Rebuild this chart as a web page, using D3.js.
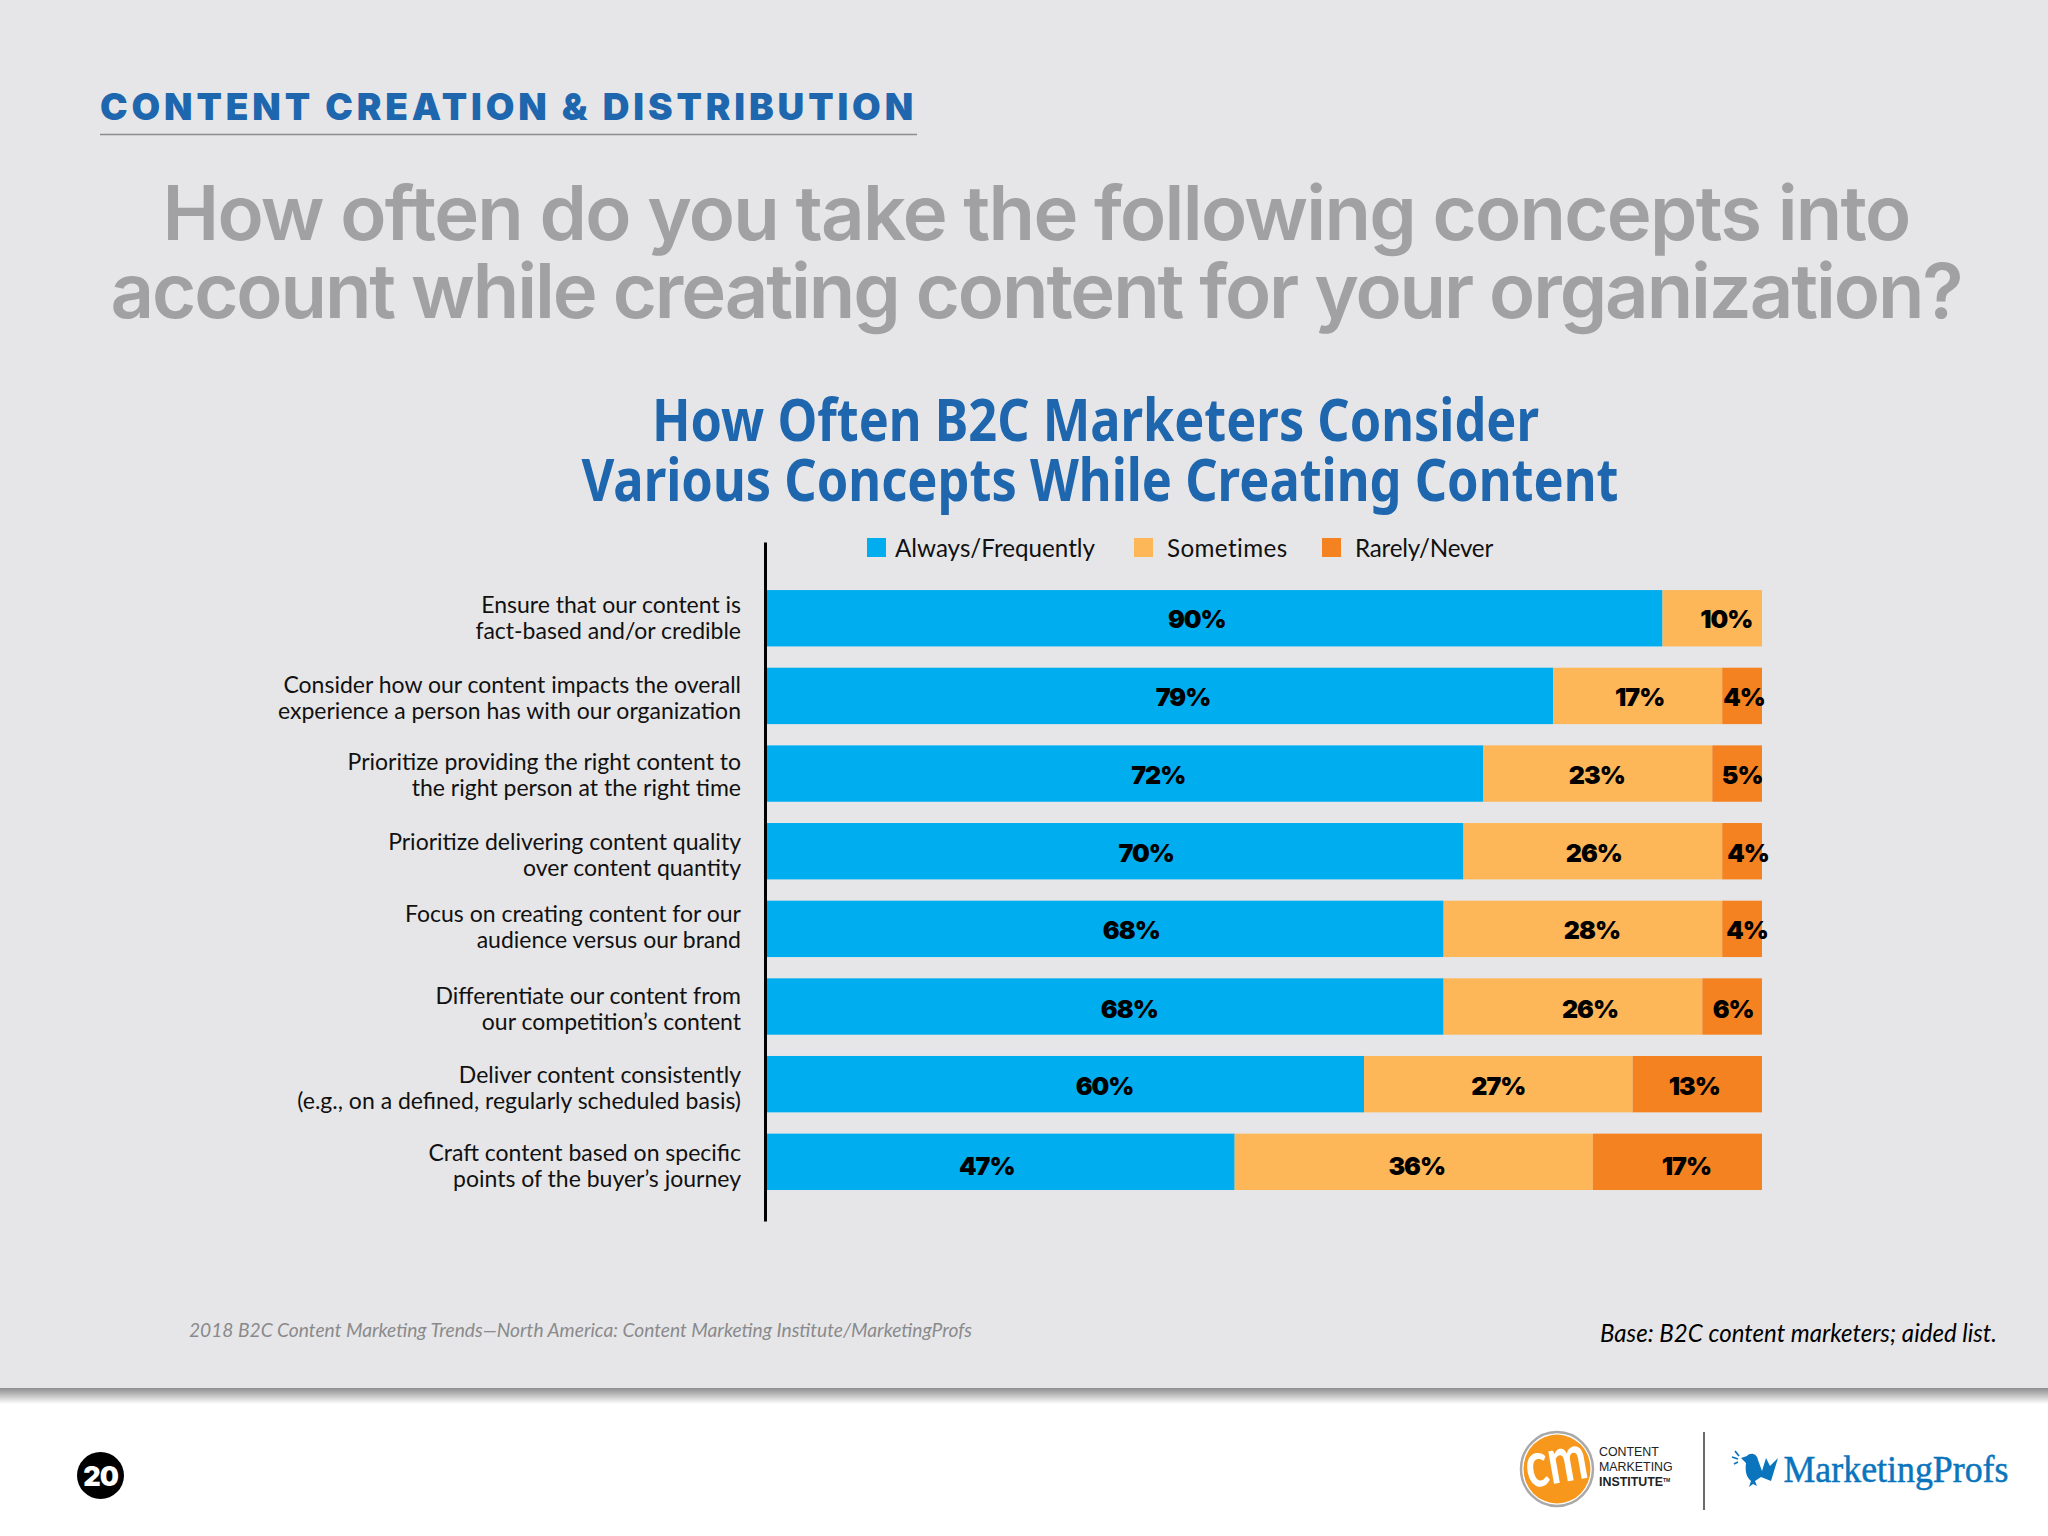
<!DOCTYPE html>
<html>
<head>
<meta charset="utf-8">
<script src="https://cdn.jsdelivr.net/npm/d3@7/dist/d3.min.js"></script>
<style>
  body { margin: 0; background: #fff; }
  svg { display: block; }
</style>
</head>
<body>
<svg id="vis-svg" width="2048" height="1536"></svg>
<script>
// chart values
var categories = [
  "Ensure that our content is|fact-based and/or credible",
  "Consider how our content impacts the overall|experience a person has with our organization",
  "Prioritize providing the right content to|the right person at the right time",
  "Prioritize delivering content quality|over content quantity",
  "Focus on creating content for our|audience versus our brand",
  "Differentiate our content from|our competition\u2019s content",
  "Deliver content consistently|(e.g., on a defined, regularly scheduled basis)",
  "Craft content based on specific|points of the buyer\u2019s journey"
];
var seriesNames = ["Always/Frequently", "Sometimes", "Rarely/Never"];
var always = [90, 79, 72, 70, 68, 68, 60, 47];
var sometimes = [10, 17, 23, 26, 28, 26, 27, 36];
var rarely = [0, 4, 5, 4, 4, 6, 13, 17];

var titleLines = ["How often do you take the following concepts into", "account while creating content for your organization?"];
var chartTitleLines = ["How Often B2C Marketers Consider", "Various Concepts While Creating Content"];
var sourceText = "2018 B2C Content Marketing Trends\u2014North America: Content Marketing Institute/MarketingProfs";
var baseText = "Base: B2C content marketers; aided list.";

var colors = ["#00aeef", "#fdb759", "#f58220"];
var blue = "#1e66ae";

// the labels sit off centre in the original, px per series and row
var labelNudge = [
  [-18, 23, 33, 31, 26, 24, 39, -14],
  [14, 2, -1, 1, 9, 17, 0, 3],
  [0, 2, 5, 6, 5, 1, -3, 9]
];
var labelDrop = [1, 1, 1, 2, 1, 2, 2, 4];
var categoryDrop = [2, 4, 3, 6, 0, 4, 6, 6];

var svg = d3.select("#vis-svg");
var defs = svg.append("defs");

// squeeze or open a text to the width it has in the original
function fitSpacing(sel, widths) {
  sel.each(function(d, i) {
    var natural = this.getComputedTextLength();
    var n = this.textContent.length;
    d3.select(this).style("letter-spacing", ((widths[i] - natural) / n) + "px");
  });
}

var shadow = defs.append("linearGradient")
  .attr("id", "shadow")
  .attr("x1", 0).attr("y1", 0).attr("x2", 0).attr("y2", 1);
shadow.append("stop").attr("offset", "0%").attr("stop-color", "#8d8d8f");
shadow.append("stop").attr("offset", "100%").attr("stop-color", "#ffffff");

// slide background
svg.append("rect").attr("width", 2048).attr("height", 1536).attr("fill", "#fff");
svg.append("rect").attr("width", 2048).attr("height", 1388).attr("fill", "#e6e6e8");
svg.append("rect").attr("y", 1388).attr("width", 2048).attr("height", 16).attr("fill", "url(#shadow)");

// header
svg.append("text")
  .datum("CONTENT CREATION & DISTRIBUTION")
  .text(function(d) { return d; })
  .attr("x", 100).attr("y", 120)
  .style("font", "900 37px Inter")
  .style("fill", blue)
  .call(fitSpacing, [817]);

svg.append("line")
  .attr("x1", 100).attr("x2", 917)
  .attr("y1", 134.5).attr("y2", 134.5)
  .attr("stroke", "#8c8c8e").attr("stroke-width", 1.5);

svg.selectAll(".q-title")
  .data(titleLines)
  .enter()
  .append("text")
  .attr("class", "q-title")
  .text(function(d) { return d; })
  .attr("x", 1036)
  .attr("y", function(d, i) { return 240 + i * 78; })
  .attr("text-anchor", "middle")
  .style("font", "600 76px Inter")
  .style("fill", "#a1a1a3")
  .call(fitSpacing, [1747, 1851]);

var chartTitleX = [1095.5, 1100];
var chartTitleWidths = [887, 1037];
svg.selectAll(".c-title")
  .data(chartTitleLines)
  .enter()
  .append("text")
  .attr("class", "c-title")
  .text(function(d) { return d; })
  .attr("x", function(d, i) { return chartTitleX[i]; })
  .attr("y", function(d, i) { return 441 + i * 59.5; })
  .attr("text-anchor", "middle")
  .attr("textLength", function(d, i) { return chartTitleWidths[i]; })
  .attr("lengthAdjust", "spacingAndGlyphs")
  .style("font", "700 60px 'Noto Sans'")
  .style("fill", blue);

// scales
var x = d3.scaleLinear().domain([0, 100]).range([767, 1762]);

var y = d3.scaleBand()
  .domain(categories)
  .range([542, 1221])
  .paddingInner(0.274)
  .paddingOuter(0.509)
  .align(0.608);

var rows = categories.map(function(c, i) {
  return { category: c, a: always[i], b: sometimes[i], c: rarely[i] };
});
var stacked = d3.stack().keys(["a", "b", "c"])(rows);

// bars
var layers = svg.selectAll(".layer")
  .data(stacked)
  .enter()
  .append("g")
  .attr("class", "layer")
  .attr("fill", function(d, i) { return colors[i]; });

layers.selectAll("rect")
  .data(function(d) { return d; })
  .enter()
  .append("rect")
  .attr("x", function(d) { return x(d[0]); })
  .attr("width", function(d) { return x(d[1]) - x(d[0]); })
  .attr("y", function(d) { return y(d.data.category); })
  .attr("height", y.bandwidth());

// value labels
layers.each(function(layer, s) {
  d3.select(this).selectAll("text")
    .data(layer.filter(function(d) { return d[1] > d[0]; }))
    .enter()
    .append("text")
    .text(function(d) { return (d[1] - d[0]) + "%"; })
    .attr("x", function(d) {
      return x((d[0] + d[1]) / 2) + labelNudge[s][categories.indexOf(d.data.category)];
    })
    .attr("y", function(d) {
      return y(d.data.category) + y.bandwidth() / 2 + 9 + labelDrop[categories.indexOf(d.data.category)];
    })
    .attr("text-anchor", "middle")
    .style("font", "900 25px Inter")
    .style("letter-spacing", "-1px")
    .style("fill", "#000");
});

// category axis
var axis = svg.append("g")
  .attr("transform", "translate(765,0)")
  .call(d3.axisLeft(y).tickSize(0).tickSizeOuter(0).tickPadding(24));

axis.select(".domain")
  .attr("stroke", "#000")
  .attr("stroke-width", 3);

axis.selectAll(".tick text").each(function(d, r) {
  var t = d3.select(this).text(null).attr("dy", null);
  d.split("|").forEach(function(line, i) {
    t.append("tspan")
      .attr("x", -24)
      .attr("y", (i ? 19 : -7) + categoryDrop[r])
      .text(line);
  });
});
axis.selectAll(".tick text")
  .attr("fill", "#111")
  .style("font", "400 23px Lato");

// legend
var legendX = [867, 1134, 1322];
var legend = svg.selectAll(".legend")
  .data(seriesNames)
  .enter()
  .append("g")
  .attr("class", "legend")
  .attr("transform", function(d, i) { return "translate(" + legendX[i] + ",538)"; });

legend.append("rect")
  .attr("width", 19)
  .attr("height", 19)
  .attr("fill", function(d, i) { return colors[i]; });

legend.append("text")
  .text(function(d) { return d; })
  .attr("x", function(d, i) { return i == 0 ? 28 : 33; })
  .attr("y", 19)
  .style("font", "400 24.2px Lato")
  .style("fill", "#111")
  .call(fitSpacing, [200, 121, 138]);

// footnotes
svg.append("text")
  .text(sourceText)
  .attr("x", 189).attr("y", 1337)
  .attr("textLength", 783).attr("lengthAdjust", "spacingAndGlyphs")
  .style("font", "italic 400 20px Lato")
  .style("fill", "#8a8a8c");

svg.append("text")
  .text(baseText)
  .attr("x", 1997).attr("y", 1342)
  .attr("text-anchor", "end")
  .attr("textLength", 397).attr("lengthAdjust", "spacingAndGlyphs")
  .style("font", "italic 400 26px Lato")
  .style("fill", "#000");

// page number
svg.append("circle").attr("cx", 100.5).attr("cy", 1475.5).attr("r", 23.5).attr("fill", "#000");
svg.append("text")
  .text("20")
  .attr("x", 100.5).attr("y", 1486)
  .attr("text-anchor", "middle")
  .style("font", "900 27px Inter")
  .style("letter-spacing", "-1px")
  .style("fill", "#fff");

// CMI logo
svg.append("ellipse")
  .attr("cx", 1557).attr("cy", 1469)
  .attr("rx", 36).attr("ry", 37)
  .attr("fill", "#fff")
  .attr("stroke", "#a9a9ab").attr("stroke-width", 2.5);
svg.append("ellipse")
  .attr("cx", 1557).attr("cy", 1469)
  .attr("rx", 33.5).attr("ry", 34.5)
  .attr("fill", "#f7981d");
svg.append("text")
  .text("cm")
  .attr("x", 1557).attr("y", 1483)
  .attr("transform", "rotate(-10 1557 1469)")
  .attr("text-anchor", "middle")
  .attr("textLength", 62).attr("lengthAdjust", "spacingAndGlyphs")
  .style("font", "700 64px Lato")
  .style("fill", "#fff");

var cmiLines = ["CONTENT", "MARKETING", "INSTITUTE"];
var cmi = svg.selectAll(".cmi")
  .data(cmiLines)
  .enter()
  .append("text")
  .attr("class", "cmi")
  .text(function(d) { return d; })
  .attr("x", 1599)
  .attr("y", function(d, i) { return 1456 + i * 15; })
  .style("font", function(d, i) { return (i == 2 ? "700" : "400") + " 12.4px 'Liberation Sans'"; })
  .style("fill", "#222");
cmi.filter(function(d, i) { return i == 2; })
  .append("tspan")
  .attr("dy", -4)
  .style("font-size", "5px")
  .text("TM");

svg.append("line")
  .attr("x1", 1704).attr("x2", 1704)
  .attr("y1", 1432).attr("y2", 1510)
  .attr("stroke", "#6a6a6c").attr("stroke-width", 2);

// MarketingProfs logo
svg.append("path")
  .attr("fill", "#0a75bd")
  .attr("d", "M1741 1458 L1747 1456 C1750 1452 1757 1453 1758 1460 L1762 1471 L1766 1458 L1770 1466 L1778 1458 L1771 1481 L1761 1477 L1755 1481 L1757 1486 L1753 1484 L1749 1487 L1751 1481 C1746 1477 1745 1470 1746 1463 Z");
svg.append("path")
  .attr("stroke", "#0a75bd").attr("stroke-width", 1.8).attr("fill", "none")
  .attr("d", "M1735 1451 L1739 1456 M1732 1457 L1738 1459 M1734 1464 L1738 1462");

svg.append("text")
  .text("MarketingProfs")
  .attr("x", 1783.5).attr("y", 1482)
  .attr("textLength", 225).attr("lengthAdjust", "spacingAndGlyphs")
  .style("font", "400 38px 'Liberation Serif'")
  .style("fill", "#0a75bd")
  .style("stroke", "#0a75bd")
  .style("stroke-width", 0.5);
</script>
</body>
</html>
